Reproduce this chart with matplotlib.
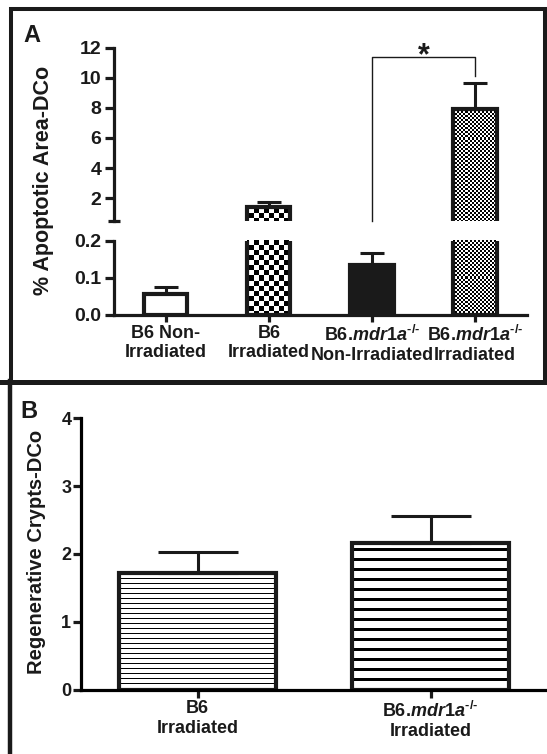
import numpy as np
import matplotlib
matplotlib.use("Agg")
import matplotlib.pyplot as plt
from matplotlib.lines import Line2D

plt.rcParams.update({
    "font.family": ["Liberation Sans", "DejaVu Sans"],
    "font.weight": "bold",
    "mathtext.fontset": "custom",
    "mathtext.rm": "Liberation Sans:bold",
    "mathtext.it": "Liberation Sans:italic:bold",
    "mathtext.bf": "Liberation Sans:bold",
    "axes.linewidth": 2.3,
})

# ---------------- data ----------------
groups_a = ["B6 Non-\nIrradiated", "B6\nIrradiated",
            "B6.$\\mathit{mdr1a}^{\\text{-/-}}$\nNon-Irradiated",
            "B6.$\\mathit{mdr1a}^{\\text{-/-}}$\nIrradiated"]
apoptotic_mean = [0.056, 1.40, 0.134, 7.90]
apoptotic_sem = [0.019, 0.33, 0.034, 1.74]
upper_ticks = [2, 4, 6, 8, 10, 12]
lower_ticks = [0.0, 0.1, 0.2]
lower_ticklabels = ["0.0", "0.1", "0.2"]
sig_pair = (2, 3)
sig_label = "*"

groups_b = ["B6\nIrradiated", "B6.$\\mathit{mdr1a}^{\\text{-/-}}$\nIrradiated"]
crypts_mean = [1.72, 2.16]
crypts_sem = [0.31, 0.40]
b_ticks = [0, 1, 2, 3, 4]

# ---------------- styles ----------------
fills_a = ["white", "check_coarse", "solid", "check_fine"]
fills_b = ["lines_thin", "lines_thick"]
ink = "#1a1a1a"

W, H = 547, 754
fig = plt.figure(figsize=(W / 100, H / 100), dpi=100)
fig.patch.set_facecolor("white")


def frac(x0, y0, x1, y1):
    return [x0 / W, 1 - y1 / H, (x1 - x0) / W, (y1 - y0) / H]


def pattern_image(ax, patch, kind):
    pos = ax.get_position()
    w = int(round(pos.width * W))
    h = int(round(pos.height * H))
    yy, xx = np.mgrid[0:h, 0:w]
    if kind == "check_coarse":
        arr = ((xx // 5 + yy // 5) % 2).astype(float)
    elif kind == "check_fine":
        arr = ((xx // 2 + yy // 2) % 2).astype(float)
    elif kind == "lines_thin":
        arr = (yy % 5 != 0).astype(float)
    else:
        arr = (yy % 10 >= 3).astype(float)
    im = ax.imshow(arr, cmap="gray", vmin=0, vmax=1, extent=(0, 1, 0, 1),
                   transform=ax.transAxes, interpolation="nearest",
                   aspect="auto", zorder=1.5)
    im.set_clip_path(patch)


def draw_bars(ax, x, means, sems, fills, width, capsize):
    bars = ax.bar(x, means, width=width, yerr=[np.zeros(len(means)), sems],
                  color="none", edgecolor=ink, linewidth=3, zorder=2,
                  error_kw=dict(ecolor=ink, elinewidth=2.2, capsize=capsize,
                                capthick=2.2, zorder=1.8))
    for b, f in zip(bars, fills):
        if f == "white":
            b.set_facecolor("white")
        elif f == "solid":
            b.set_facecolor(ink)
        else:
            pattern_image(ax, b, f)
    return bars


# ---------------- panel A (broken axis) ----------------
xa = np.arange(len(groups_a))
ax_up = fig.add_axes(frac(114, 47.7, 526.7, 220.7))
ax_lo = fig.add_axes(frac(114, 240.7, 526.7, 315))
for ax in (ax_up, ax_lo):
    ax.set_facecolor("none")
    draw_bars(ax, xa, apoptotic_mean, apoptotic_sem, fills_a, 0.42, 8.3)
    ax.set_xlim(-0.5, 3.5)
    for s in ("top", "right"):
        ax.spines[s].set_visible(False)
    ax.spines["left"].set_color(ink)
    ax.spines["bottom"].set_color(ink)
    ax.tick_params(axis="y", which="major", direction="out", length=6.5,
                   width=2.3, pad=2.5, labelsize=14, colors=ink)
    ax.tick_params(axis="y", which="minor", direction="inout", length=8.5,
                   width=2.3, colors=ink)

ax_up.set_ylim(0.5, 12)
ax_up.spines["bottom"].set_visible(False)
ax_up.tick_params(axis="x", bottom=False, labelbottom=False)
ax_up.set_yticks(upper_ticks)
ax_up.set_yticks([0.5], minor=True)

ax_lo.set_ylim(0, 0.2)
ax_lo.set_yticks(lower_ticks)
ax_lo.set_yticklabels(lower_ticklabels)
ax_lo.set_yticks([0.2], minor=True)
ax_lo.set_xticks(xa)
ax_lo.set_xticklabels(groups_a)
ax_lo.tick_params(axis="x", direction="out", length=5, width=2.3, pad=2,
                  labelsize=13, colors=ink)

# significance bracket
i0, i1 = sig_pair
top_err = apoptotic_mean[i1] + apoptotic_sem[i1]
y_top = top_err + 1.72
ax_up.plot([xa[i0], xa[i0], xa[i1], xa[i1]],
           [0.5, y_top, y_top, top_err + 0.48],
           color=ink, lw=1.0, clip_on=False, zorder=3)
ax_up.text((xa[i0] + xa[i1]) / 2, y_top - 0.44, sig_label, ha="center",
           va="baseline", fontsize=22, color=ink, clip_on=False)

fig.text(44 / W, 1 - 180.5 / H, "% Apoptotic Area-DCo", rotation=90,
         ha="center", va="center", fontsize=15.5, color=ink)
fig.text(23 / W, 1 - 24 / H, "A", ha="left", va="top", fontsize=17, color=ink)

# ---------------- panel B ----------------
xb = np.arange(len(groups_b))
ax_b = fig.add_axes(frac(81, 418, 547, 690))
ax_b.set_facecolor("none")
draw_bars(ax_b, xb, crypts_mean, crypts_sem, fills_b, 0.67, 28.8)
ax_b.set_xlim(-0.5, 1.5)
ax_b.set_ylim(0, 4)
for s in ("top", "right"):
    ax_b.spines[s].set_visible(False)
ax_b.set_yticks(b_ticks)
ax_b.set_xticks(xb)
ax_b.set_xticklabels(groups_b)
ax_b.tick_params(axis="y", direction="out", length=6, width=2.3, pad=1,
                 labelsize=13, colors=ink)
ax_b.tick_params(axis="x", direction="out", length=5.5, width=2.3, pad=2,
                 labelsize=13, colors=ink)

fig.text(37 / W, 1 - 552 / H, "Regenerative Crypts-DCo", rotation=90,
         ha="center", va="center", fontsize=14.5, color=ink)
fig.text(20 / W, 1 - 400 / H, "B", ha="left", va="top", fontsize=17, color=ink)

# ---------------- panel borders ----------------
fig.add_artist(Line2D([11 / W, 11 / W, 545 / W, 545 / W],
                      [1 - 381 / H, 1 - 9 / H, 1 - 9 / H, 1 - 381 / H],
                      transform=fig.transFigure, color=ink, lw=2.9,
                      solid_joinstyle="miter"))
fig.add_artist(Line2D([0, 1], [1 - 381.5 / H] * 2, transform=fig.transFigure,
                      color=ink, lw=3.6))
fig.add_artist(Line2D([9.5 / W] * 2, [1 - 381 / H, 0], transform=fig.transFigure,
                      color=ink, lw=3.2))

fig.savefig("out.png", dpi=100, facecolor="white")
